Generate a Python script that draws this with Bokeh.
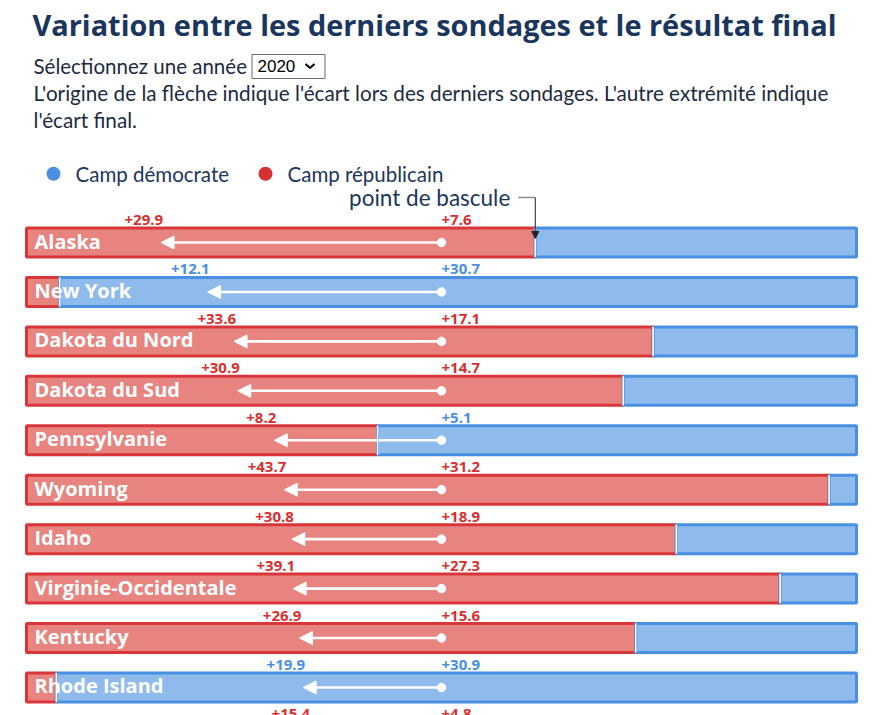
from bokeh.plotting import figure
from bokeh.models import Range1d, ColumnDataSource, Arrow, NormalHead, CDSView, IndexFilter
from bokeh.core.properties import value
from bokeh.embed import file_html
from bokeh.resources import INLINE

# --- data -----------------------------------------------------------------
etats = ["Alaska", "New York", "Dakota du Nord", "Dakota du Sud", "Pennsylvanie",
         "Wyoming", "Idaho", "Virginie-Occidentale", "Kentucky", "Rhode Island",
         "Montana"]
# camp en tête et écart (points) dans les derniers sondages
camp_sondage = ["R", "D", "R", "R", "D", "R", "R", "R", "R", "D", "R"]
ecart_sondage = [7.6, 30.7, 17.1, 14.7, 5.1, 31.2, 18.9, 27.3, 15.6, 30.9, 4.8]
# camp gagnant et écart final (points)
camp_final = ["R", "D", "R", "R", "R", "R", "R", "R", "R", "D", "R"]
ecart_final = [29.9, 12.1, 33.6, 30.9, 8.2, 43.7, 30.8, 39.1, 26.9, 19.9, 15.4]
# part républicaine de la barre (%)
part_rep = [61.3, 4.0, 75.5, 71.9, 42.3, 96.7, 78.3, 90.8, 73.4, 3.6, 80.0]
point_bascule = 61.3
annee = "2020"

# --- styles -----------------------------------------------------------------
W, H = 885, 715
FONT = "Lato"
FONT_B = "Open Sans"
NAVY = "#1b365d"
INK = "#1c2b3f"
RED, RED_FILL = "#d8363a", "#e8847f"
BLUE, BLUE_FILL = "#4a90e2", "#8fbbec"
TXT_RED, TXT_BLUE = "#d8302f", "#4a90e2"

BAR_L, BAR_R = 26, 856            # bar extent in pixels
ROW0, PITCH = 242, 49.44          # first row centre and row spacing (px)
BAR_PX = 29                       # bar height in pixels
ECART_MAX = 33                    # half-width of the bar in points of margin

k = (BAR_R - BAR_L) / 100.0       # px per % of bar
ke = (BAR_R - BAR_L) / 2.0 / ECART_MAX
cx = (BAR_L + BAR_R) / 2.0


def X(px):
    return (px - BAR_L) / k


def Y(px):
    return (px - ROW0) / PITCH


p = figure(width=W, height=H, output_backend="svg", toolbar_location=None,
           x_range=Range1d(X(0), X(W)), y_range=Range1d(Y(H), Y(0)),
           x_axis_location=None, y_axis_location=None, min_border=0)
p.extra_x_ranges = {"ecart": Range1d(-cx / ke, (W - cx) / ke)}
p.grid.visible = False
p.outline_line_color = None
p.background_fill_color = "white"
p.border_fill_color = "white"

n = len(etats)
rows = list(range(n))
bar_h = BAR_PX / PITCH

# only rows whose bar starts inside the page get a bar and a name
in_page = [i for i in rows if ROW0 + PITCH * i - BAR_PX / 2 - 2 < H]
view = CDSView(filter=IndexFilter(in_page))


def signe(camp, v):
    return v if camp == "D" else -v


poll = [signe(c, v) for c, v in zip(camp_sondage, ecart_sondage)]
final = [signe(c, v) for c, v in zip(camp_final, ecart_final)]
shift = [f - s for f, s in zip(final, poll)]

src = ColumnDataSource(dict(
    y=rows, etat=etats, rep=part_rep, zero=[0] * n, cent=[100] * n,
    y0=[r - bar_h / 2 for r in rows], y1=[r + bar_h / 2 for r in rows],
    shift=shift,
    lab_poll=[f"+{v:.1f}" for v in ecart_sondage],
    lab_final=[f"+{v:.1f}" for v in ecart_final],
    col_poll=[TXT_BLUE if c == "D" else TXT_RED for c in camp_sondage],
    col_final=[TXT_BLUE if c == "D" else TXT_RED for c in camp_final],
))

p.hbar(y="y", left="zero", right="rep", height=bar_h, source=src, view=view,
       fill_color=RED_FILL, line_color=RED, line_width=3)
p.hbar(y="y", left="rep", right="cent", height=bar_h, source=src, view=view,
       fill_color=BLUE_FILL, line_color=BLUE, line_width=3)
p.segment(x0="rep", x1="rep", y0="y0", y1="y1", source=src, view=view,
          line_color="white", line_width=1.6)

# state names
p.text(x="zero", y="y", text="etat", source=src, view=view, x_offset=8, y_offset=-1.5,
       text_baseline="middle", text_color="white",
       text_font=value(FONT_B), text_font_style="bold", text_font_size="20px")

# arrows: from the poll margin (centre) to the final margin
arr = ColumnDataSource(dict(y=[rows[i] for i in in_page], zero=[0] * len(in_page),
                            shift=[shift[i] for i in in_page]))
p.add_layout(Arrow(source=arr, x_start="zero", y_start="y", x_end="shift", y_end="y",
                   x_range_name="ecart", line_color="white", line_width=2.6,
                   end=NormalHead(size=13, fill_color="white", line_color="white",
                                  line_width=1)))
p.scatter(x="zero", y="y", source=src, view=view, x_range_name="ecart", size=8.5,
          fill_color="white", line_color="white")

p.text(x="zero", y="y", text="lab_poll", source=src, x_range_name="ecart",
       x_offset=0, y_offset=-22.5, text_align="left", text_baseline="middle",
       text_color="col_poll", text_font=value(FONT_B), text_font_style="bold",
       text_font_size="15px")
p.text(x="shift", y="y", text="lab_final", source=src, x_range_name="ecart",
       x_offset=2, y_offset=-22.5, text_align="right", text_baseline="middle",
       text_color="col_final", text_font=value(FONT_B), text_font_style="bold",
       text_font_size="15px")

# --- header -------------------------------------------------------------------
p.text(x=[X(32)], y=[Y(23.5)], text=["Variation entre les derniers sondages et le résultat final"],
       text_baseline="middle", text_color=NAVY, text_font=value(FONT_B),
       text_font_style="bold", text_font_size="28.9px")
p.text(x=[X(33)], y=[Y(65)], text=["Sélectionnez une année"],
       text_baseline="middle", text_color=INK, text_font=value(FONT),
       text_font_size="20.5px")
p.quad(left=[X(251.5)], right=[X(324.5)], top=[Y(54)], bottom=[Y(78)],
       fill_color="white", line_color="#6b6b6b", line_width=1)
p.text(x=[X(257)], y=[Y(65.5)], text=[annee], text_baseline="middle",
       text_color="black", text_font=value("Liberation Sans"), text_font_size="17px")
p.line(x=[X(305), X(309.5), X(314)], y=[Y(63.5), Y(67.5), Y(63.5)],
       line_color="black", line_width=2)
p.text(x=[X(33), X(33)], y=[Y(92), Y(119)],
       text=["L'origine de la flèche indique l'écart lors des derniers sondages. L'autre extrémité indique",
             "l'écart final."],
       text_baseline="middle", text_color=INK, text_font=value(FONT),
       text_font_size="20.7px")

# legend
p.scatter(x=[X(53), X(265)], y=[Y(173.3), Y(173.3)], size=14,
          fill_color=[BLUE, TXT_RED], line_color=None)
p.text(x=[X(75), X(287)], y=[Y(173), Y(173)], text=["Camp démocrate", "Camp républicain"],
       text_baseline="middle", text_color=NAVY, text_font=value(FONT),
       text_font_size="20.5px")

# tipping point marker
p.text(x=[point_bascule], y=[Y(197)], x_offset=-25, text=["point de bascule"],
       text_align="right", text_baseline="middle", text_color=NAVY,
       text_font=value(FONT), text_font_size="22.5px")
p.line(x=[point_bascule - 17 / k, point_bascule], y=[Y(197), Y(197)],
       line_color="#8a8a8a", line_width=1.5)
p.add_layout(Arrow(x_start=point_bascule, y_start=Y(197), x_end=point_bascule, y_end=Y(238),
                   line_color="#222222", line_width=1,
                   end=NormalHead(size=7, fill_color="#222222", line_color="#222222",
                                  line_width=1)))

open("out.html", "w").write(file_html(p, INLINE))
